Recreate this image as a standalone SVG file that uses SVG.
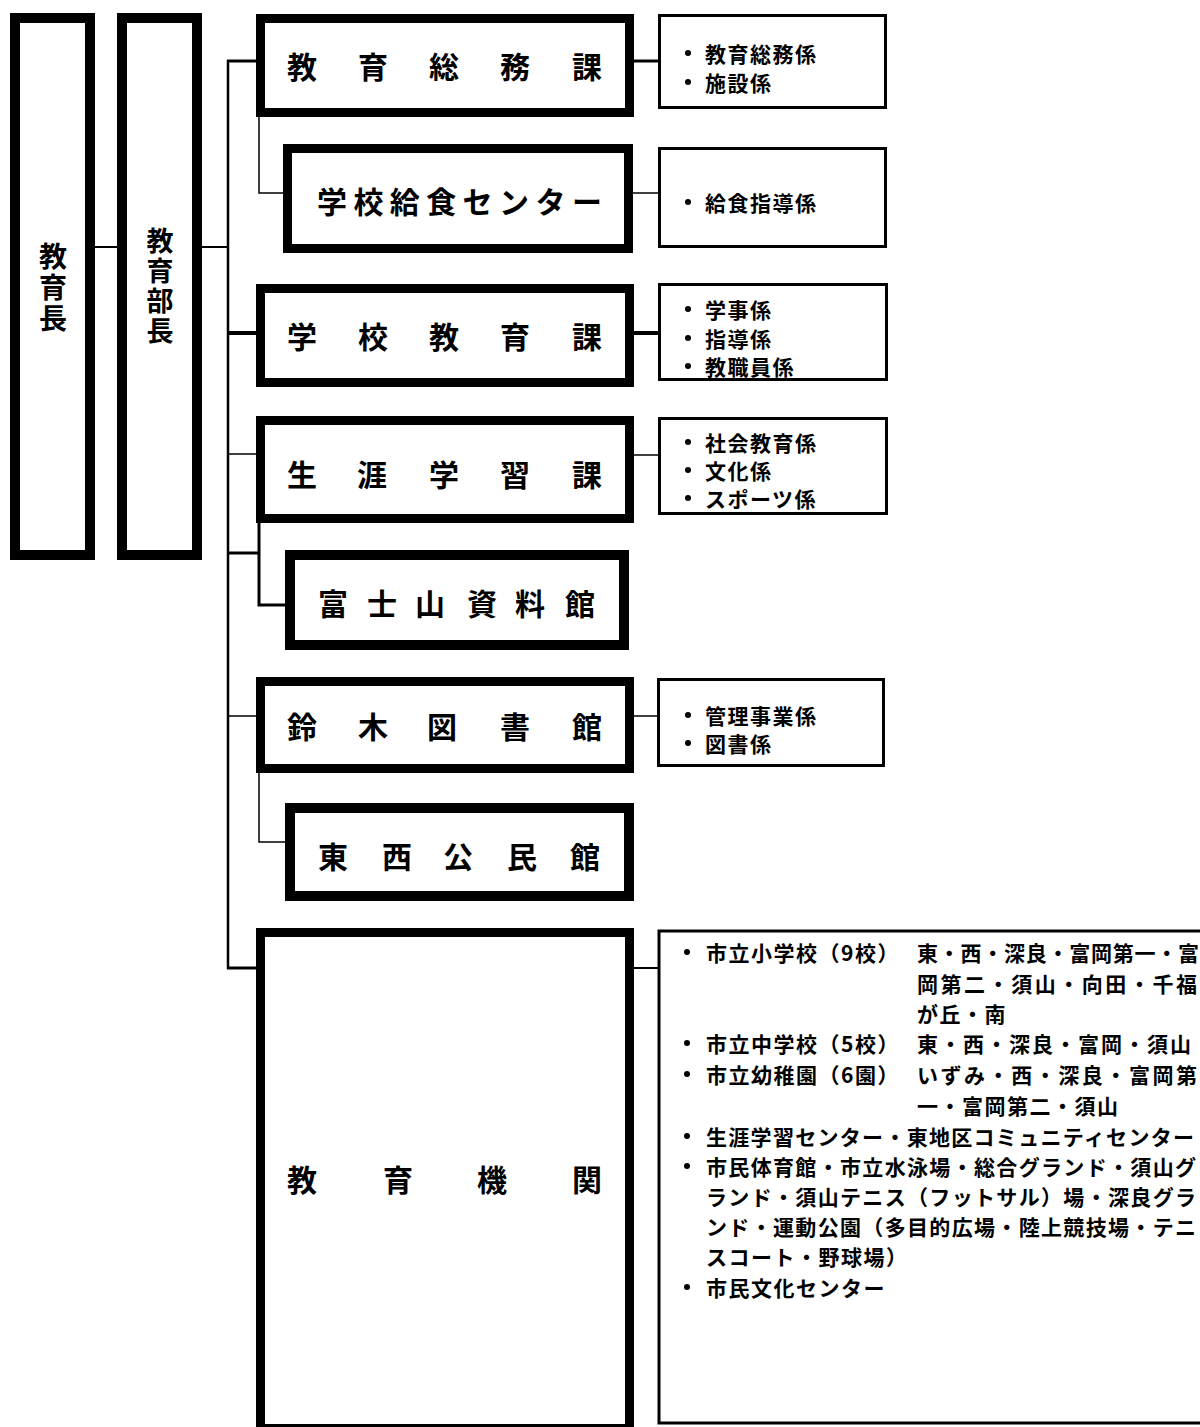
<svg xmlns="http://www.w3.org/2000/svg" width="1200" height="1427" viewBox="0 0 1200 1427">
<style>
.box{fill:#fff;stroke:#000;stroke-width:9}
.tall{fill:#fff;stroke:#000;stroke-width:10}
.thin{fill:#fff;stroke:#000;stroke-width:3}
.big{font-family:"Noto Sans CJK JP","Noto Sans CJK SC",sans-serif;font-weight:bold;font-size:30px;fill:#000;text-anchor:middle;dominant-baseline:central}
.vt{font-family:"Noto Sans CJK JP","Noto Sans CJK SC",sans-serif;font-weight:bold;font-size:27px;fill:#000;writing-mode:vertical-rl;letter-spacing:3px}
.sm{font-family:"Noto Sans CJK JP","Noto Sans CJK SC",sans-serif;font-weight:bold;font-size:21px;fill:#000;letter-spacing:1.5px;dominant-baseline:central}
.jt{font-family:"Noto Sans CJK JP","Noto Sans CJK SC",sans-serif;font-weight:bold;font-size:21px;fill:#000;dominant-baseline:central}
.c{fill:none;stroke:#000}
</style>
<rect width="1200" height="1427" fill="#fff"/>
<g id="connectors">
<path class="c" stroke-width="2" d="M95 247H117"/>
<path class="c" stroke-width="2" d="M202 247H228"/>
<path class="c" stroke-width="2.5" d="M228 60V969"/>
<path class="c" stroke-width="3" d="M227 61H256"/>
<path class="c" stroke-width="1.5" d="M259 117V193H288"/>
<path class="c" stroke-width="3" d="M634 61H658"/>
<path class="c" stroke-width="1.5" d="M633 193H658"/>
<path class="c" stroke-width="4" d="M228 333H256"/>
<path class="c" stroke-width="4" d="M634 333H658"/>
<path class="c" stroke-width="1.5" d="M228 454H256"/>
<path class="c" stroke-width="1.5" d="M634 455H658"/>
<path class="c" stroke-width="3" d="M228 553H259"/>
<path class="c" stroke-width="3" d="M259 523V605H285"/>
<path class="c" stroke-width="1.5" d="M228 716H256"/>
<path class="c" stroke-width="1.5" d="M634 716H657"/>
<path class="c" stroke-width="1.5" d="M259 773V842H285"/>
<path class="c" stroke-width="3" d="M227 968H256"/>
<path class="c" stroke-width="2" d="M634 968H658"/>
</g>
<g id="kyoikucho">
<rect class="tall" x="15" y="18" width="75" height="537"/>
<text class="vt" x="53" y="242" style="font-size:28px">教育長</text>
</g>
<g id="kyoikubucho">
<rect class="tall" x="122" y="18" width="75" height="537"/>
<text class="vt" x="160" y="227.5">教育部長</text>
</g>
<g id="somuka">
<rect class="box" x="260.5" y="18.5" width="369" height="94"/>
<text class="big" x="302 373 444 515 587" y="65">教育総務課</text>
</g>
<g id="kyushoku">
<rect class="box" x="287.5" y="148.5" width="341" height="100"/>
<text class="big" x="332 368.4 404.8 441.2 477.6 514 550.4 587" y="200">学校給食センター</text>
</g>
<g id="gakkokyoiku">
<rect class="box" x="260.5" y="288.5" width="369" height="94"/>
<text class="big" x="302 373 444 515 587" y="335">学校教育課</text>
</g>
<g id="shogai">
<rect class="box" x="260.5" y="420.5" width="369" height="98"/>
<text class="big" x="302 372 444 515 587" y="473">生涯学習課</text>
</g>
<g id="fujisan">
<rect class="tall" x="290" y="555" width="334" height="90"/>
<text class="big" x="333 382 430 482 530 580" y="602">富士山資料館</text>
</g>
<g id="suzuki">
<rect class="box" x="260.5" y="681.5" width="369" height="87"/>
<text class="big" x="302 373 442 515 587" y="725">鈴木図書館</text>
</g>
<g id="tozai">
<rect class="tall" x="290" y="808" width="339" height="88"/>
<text class="big" x="333 397 458 522 585" y="855">東西公民館</text>
</g>
<g id="kikan">
<rect class="box" x="260.5" y="932.5" width="369" height="496"/>
<text class="big" x="302 398 492 587" y="1178">教育機関</text>
</g>
<g id="r1">
<rect class="thin" x="659.5" y="15.5" width="226" height="92"/>
<circle cx="688" cy="53" r="3"/><circle cx="688" cy="82" r="3"/>
<text class="sm" x="705" y="53">教育総務係</text>
<text class="sm" x="705" y="82">施設係</text>
</g>
<g id="r2">
<rect class="thin" x="659.5" y="148.5" width="226" height="98"/>
<circle cx="688" cy="202" r="3"/>
<text class="sm" x="705" y="202">給食指導係</text>
</g>
<g id="r3">
<rect class="thin" x="659.5" y="284.5" width="227" height="95"/>
<circle cx="688" cy="309" r="3"/><circle cx="688" cy="338" r="3"/><circle cx="688" cy="366" r="3"/>
<text class="sm" x="705" y="309">学事係</text>
<text class="sm" x="705" y="338">指導係</text>
<text class="sm" x="705" y="366">教職員係</text>
</g>
<g id="r4">
<rect class="thin" x="659.5" y="418.5" width="227" height="95"/>
<circle cx="688" cy="442" r="3"/><circle cx="688" cy="470" r="3"/><circle cx="688" cy="498" r="3"/>
<text class="sm" x="705" y="442">社会教育係</text>
<text class="sm" x="705" y="470">文化係</text>
<text class="sm" x="705" y="498">スポーツ係</text>
</g>
<g id="r5">
<rect class="thin" x="658.5" y="679.5" width="225" height="86"/>
<circle cx="688" cy="715" r="3"/><circle cx="688" cy="743" r="3"/>
<text class="sm" x="705" y="715">管理事業係</text>
<text class="sm" x="705" y="743">図書係</text>
</g>
<g id="r6">
<rect class="thin" x="659" y="931" width="600" height="492" stroke-width="4"/>
<circle cx="687" cy="952" r="3"/><circle cx="687" cy="1043" r="3"/><circle cx="687" cy="1074" r="3"/><circle cx="687" cy="1136" r="3"/><circle cx="687" cy="1166" r="3"/><circle cx="687" cy="1287" r="3"/>
<text class="sm" x="706" y="952">市立小学校（9校）</text>
<text class="jt" x="917" y="952" textLength="282" lengthAdjust="spacing">東・西・深良・富岡第一・富</text>
<text class="jt" x="917" y="983" textLength="280" lengthAdjust="spacing">岡第二・須山・向田・千福</text>
<text class="sm" x="917" y="1013">が丘・南</text>
<text class="sm" x="706" y="1043">市立中学校（5校）</text>
<text class="jt" x="917" y="1043" textLength="274" lengthAdjust="spacing">東・西・深良・富岡・須山</text>
<text class="sm" x="706" y="1074">市立幼稚園（6園）</text>
<text class="jt" x="917" y="1074" textLength="280" lengthAdjust="spacing">いずみ・西・深良・富岡第</text>
<text class="sm" x="917" y="1105">一・富岡第二・須山</text>
<text class="jt" x="706" y="1136" textLength="488" lengthAdjust="spacing">生涯学習センター・東地区コミュニティセンター</text>
<text class="jt" x="706" y="1166" textLength="490" lengthAdjust="spacing">市民体育館・市立水泳場・総合グランド・須山グ</text>
<text class="jt" x="706" y="1196" textLength="490" lengthAdjust="spacing">ランド・須山テニス（フットサル）場・深良グラ</text>
<text class="jt" x="706" y="1226" textLength="490" lengthAdjust="spacing">ンド・運動公園（多目的広場・陸上競技場・テニ</text>
<text class="sm" x="706" y="1256">スコート・野球場）</text>
<text class="sm" x="706" y="1287">市民文化センター</text>
</g>
</svg>
